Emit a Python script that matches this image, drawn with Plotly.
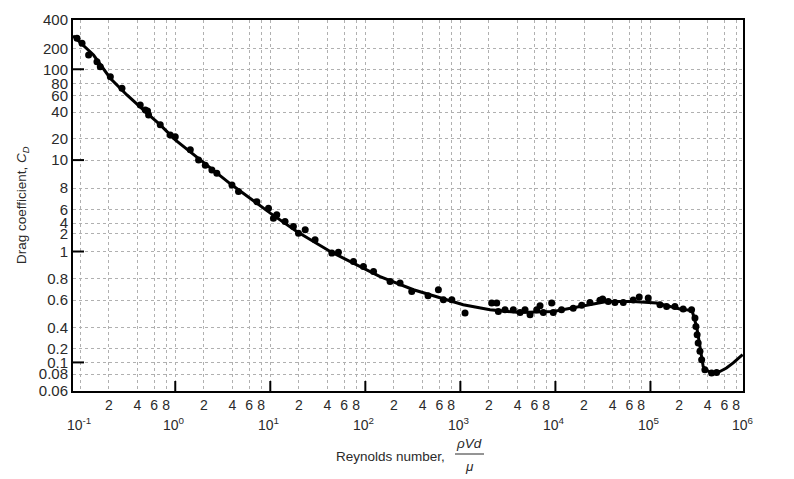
import numpy as np
import plotly.graph_objects as go

# ---- y scale of the original chart (label values and where they sit on the axis) ----
cd_tick_vals = [400, 200, 100, 80, 60, 40, 20, 10, 8, 6, 4, 2, 1, 0.8, 0.6, 0.4, 0.2, 0.1, 0.08, 0.06]
cd_tick_text = ["400", "200", "100", "80", "60", "40", "20", "10", "8", "6", "4", "2", "1",
                "0.8", "0.6", "0.4", "0.2", "0.1", "0.08", "0.06"]
cd_tick_pos = [371.3, 343.0, 322.0, 308.0, 295.8, 279.0, 252.3, 231.1, 203.0, 181.5, 168.0,
               157.3, 139.6, 112.3, 91.0, 63.3, 42.3, 28.6, 16.8, 0.0]
cd_major = [100, 10, 1, 0.1]

# ---- smooth curve (Reynolds number, drag coefficient) ----
curve_re = [0.084, 0.138, 0.207, 0.31, 0.484, 0.695, 1.0, 1.83, 3.95, 10, 19, 42.7, 75, 143,
            321, 612, 1072, 2051, 4246, 9500, 18150, 34700, 65900, 116000, 204000, 260000,
            274000, 282000, 294000, 306000, 318000, 332000, 346000, 359000, 384000, 440000,
            486000, 539000, 631000, 743000, 933000]
curve_cd = [272, 160, 86.7, 60.7, 40.5, 28.8, 19.4, 10.1, 8.2, 5.4, 2.32, 1.0, 0.91, 0.815,
            0.69, 0.617, 0.56, 0.52, 0.50, 0.508, 0.546, 0.587, 0.587, 0.574, 0.526, 0.52,
            0.515, 0.484, 0.45, 0.407, 0.307, 0.216, 0.133, 0.0927, 0.087, 0.0818,
            0.082, 0.0843, 0.090, 0.099, 0.148]

# ---- measured points ----
pts_re = [0.0925, 0.1045, 0.1225, 0.150, 0.1626, 0.2075, 0.275, 0.428, 0.484, 0.524, 0.511,
          0.695, 0.886, 1.0, 1.44, 1.76, 2.07, 2.43, 2.74, 3.95, 4.63, 7.23, 9.57, 10.8, 11.7,
          14.3, 17.5, 19.8, 23.3, 29.6, 44.4, 52.1, 75, 95.5, 122, 182, 232, 308, 457, 587,
          663, 813, 1120, 2138, 2414, 2510, 2950, 3606, 4246, 4790, 5410, 6360, 6890, 7460,
          9140, 9500, 11600, 15400, 18900, 23100, 29400, 31400, 36000, 42300, 51800, 65900,
          76200, 94800, 126000, 148000, 181000, 221000, 271000, 294000, 301000, 310000,
          318000, 332000, 346000, 374000, 440000, 497000]
pts_cd = [255, 226, 160, 128, 109, 88.9, 71.1, 47.7, 42.3, 37.3, 41.3,
          28.8, 22.2, 21.2, 14.0, 10.0, 9.6, 9.25, 9.0, 8.2, 7.64, 6.68, 6.12, 4.65, 5.13,
          4.2, 3.21, 2.09, 2.59, 1.58, 0.987, 0.993, 0.922, 0.885, 0.849, 0.771, 0.755, 0.674, 0.636, 0.689,
          0.602, 0.602, 0.496, 0.574, 0.574, 0.508, 0.520, 0.520, 0.50, 0.52, 0.484, 0.52, 0.552, 0.50,
          0.574, 0.50, 0.52, 0.533, 0.556, 0.579, 0.598, 0.608, 0.587, 0.579, 0.579, 0.60,
          0.625, 0.617, 0.56, 0.546, 0.546, 0.526, 0.52, 0.461, 0.408, 0.318,
          0.241, 0.175, 0.115, 0.087, 0.0818, 0.0828]

# ---- x axis labels ----
x_range_log = [-1.076, 5.974]
decades = [-1, 0, 1, 2, 3, 4, 5, 6]
decade_labels = ["10<sup>-1</sup>", "10<sup>0</sup>", "10<sup>1</sup>", "10<sup>2</sup>",
                 "10<sup>3</sup>", "10<sup>4</sup>", "10<sup>5</sup>", "10<sup>6</sup>"]
minor_mult = [2, 4, 6, 8]


def cd_to_axis(v):
    lv = np.log10(np.asarray(v, dtype=float))
    xp = np.log10(cd_tick_vals)[::-1]
    fp = np.asarray(cd_tick_pos)[::-1]
    return np.interp(lv, xp, fp)


# x grid / tick values
x_tickvals, x_ticktext = [], []
for d in decades:
    base = 10.0 ** d
    if x_range_log[0] <= d <= x_range_log[1]:
        x_tickvals.append(base)
        x_ticktext.append("")
    for m in minor_mult:
        v = m * base
        if np.log10(v) <= x_range_log[1]:
            x_tickvals.append(v)
            x_ticktext.append(str(m))

FONT = "Liberation Sans, Arial, sans-serif"
TXT = "#2a2a2a"

fig = go.Figure()
fig.add_trace(go.Scatter(x=curve_re, y=cd_to_axis(curve_cd), mode="lines",
                         line=dict(color="black", width=3), hoverinfo="skip",
                         showlegend=False))
fig.add_trace(go.Scatter(x=pts_re, y=cd_to_axis(pts_cd), mode="markers",
                         marker=dict(color="black", size=7), showlegend=False))

W, H = 794, 479
ml, mr, mt, mb = 73, 51, 20, 88
pw, ph = W - ml - mr, H - mt - mb


def px(xp):
    return (xp - ml) / pw


def py(yp):
    return (H - mb - yp) / ph


def log_to_paper(lx):
    return (lx - x_range_log[0]) / (x_range_log[1] - x_range_log[0])


fig.update_layout(
    width=W, height=H,
    margin=dict(l=ml, r=mr, t=mt, b=mb),
    paper_bgcolor="white", plot_bgcolor="white",
    font=dict(family=FONT, color=TXT),
    xaxis=dict(type="log", range=x_range_log, tickvals=x_tickvals, ticktext=x_ticktext,
               showgrid=True, gridcolor="#b0b0b0", gridwidth=1, griddash="dot",
               showline=True, linecolor="black", linewidth=2, mirror=True,
               ticks="", tickfont=dict(size=14, color=TXT), zeroline=False),
    yaxis=dict(range=[0, 371.3], tickvals=cd_tick_pos, ticktext=cd_tick_text,
               showgrid=True, gridcolor="#b0b0b0", gridwidth=1, griddash="dot",
               showline=True, linecolor="black", linewidth=2, mirror=True,
               ticks="", tickfont=dict(size=15, color=TXT), zeroline=False),
)

shapes = []
# decade tick marks on bottom axis (inside)
for d in decades:
    if x_range_log[0] + 0.2 < d < x_range_log[1]:
        shapes.append(dict(type="line", xref="x", yref="y", x0=10.0 ** d, x1=10.0 ** d,
                           y0=0, y1=10, line=dict(color="black", width=2)))
# decade tick marks on left axis (inside)
for v in cd_major:
    yy = float(cd_to_axis(v))
    shapes.append(dict(type="line", xref="x domain", yref="y", x0=0, x1=11 / pw, y0=yy, y1=yy,
                       line=dict(color="black", width=2)))
# fraction bar of rho V d / mu
shapes.append(dict(type="line", xref="paper", yref="paper", x0=px(455), x1=px(484),
                   y0=py(454), y1=py(454), line=dict(color=TXT, width=1)))
fig.update_layout(shapes=shapes)

ann = []
for d, lab in zip(decades, decade_labels):
    if d < x_range_log[0]:
        xd, anchor = px(83), "right"
    elif d > x_range_log[1]:
        xd, anchor = log_to_paper(x_range_log[1]), "center"
    else:
        xd, anchor = log_to_paper(d) - 0.002, "center"
    ann.append(dict(x=xd, y=py(424), xref="paper", yref="paper", text=lab, showarrow=False,
                    xanchor=anchor, yanchor="middle", font=dict(size=14, color=TXT)))
ann.append(dict(x=px(447), y=py(456), xref="paper", yref="paper", text="Reynolds number,",
                showarrow=False, xanchor="right", yanchor="middle", font=dict(size=13.5, color=TXT)))
ann.append(dict(x=px(469), y=py(443), xref="paper", yref="paper", text="<i>ρVd</i>",
                showarrow=False, xanchor="center", yanchor="middle", font=dict(size=13.5, color=TXT)))
ann.append(dict(x=px(469), y=py(466), xref="paper", yref="paper", text="<i>μ</i>",
                showarrow=False, xanchor="center", yanchor="middle", font=dict(size=13.5, color=TXT)))
ann.append(dict(x=px(22), y=py(205), xref="paper", yref="paper",
                text="Drag coefficient, <i>C<sub>D</sub></i>", textangle=-90,
                showarrow=False, xanchor="center", yanchor="middle", font=dict(size=13.5, color=TXT)))
fig.update_layout(annotations=ann)

fig.write_html("out.html")
